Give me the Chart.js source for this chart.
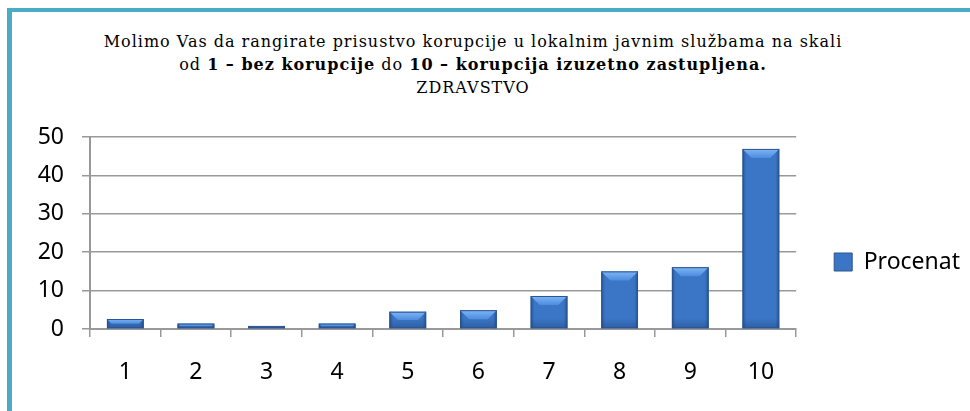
<!DOCTYPE html>
<html>
<head>
<meta charset="utf-8">
<script src="https://cdn.jsdelivr.net/npm/chart.js@4.4.1/dist/chart.umd.min.js"></script>
<style>
  html, body { margin: 0; padding: 0; background: #fff; overflow: hidden; }
  #frame { position: absolute; left: 7px; top: 8px; right: 0; bottom: 0; border-left: 5px solid #4bacc6; border-top: 4px solid #4bacc6; }
  #title { position: absolute; left: 0; top: 30px; width: 946px; text-align: center; font-family: "DejaVu Serif", serif; font-size: 16px; line-height: 23px; letter-spacing: 1px; color: #000; }
  #title b { font-weight: bold; }
  #wrap { position: absolute; left: 0; top: 0; width: 970px; height: 411px; }
</style>
</head>
<body>
<div id="frame"></div>
<div id="title">
  Molimo Vas da rangirate prisustvo korupcije u lokalnim javnim službama na skali<br>
  od <b>1 – bez korupcije</b> do <b>10 – korupcija izuzetno zastupljena.</b><br>
  ZDRAVSTVO
</div>
<div id="wrap"><canvas id="chart"></canvas></div>
<script>
// chart data
const categories = ['1', '2', '3', '4', '5', '6', '7', '8', '9', '10'];
const seriesName = 'Procenat';
const procenat = [2.6, 1.4, 0.8, 1.4, 4.5, 4.9, 8.6, 15, 16.1, 46.9];
const yTicks = [0, 10, 20, 30, 40, 50];

(function () {
  const gridColor = '#999999';
  const textFont = { family: '"Noto Sans", "Open Sans", sans-serif', size: 23 };

  // bevelled look of the office-style bars, drawn over each bar element
  const bevelPlugin = {
    id: 'bevel',
    afterDatasetsDraw(chart) {
      const ctx = chart.ctx;
      chart.getDatasetMeta(0).data.forEach(bar => {
        const w = bar.width, l = bar.x - w / 2, r = bar.x + w / 2;
        const t = bar.y, b = bar.base, h = b - t;
        if (h <= 0) return;
        const bv = Math.min(9, h / 2);
        ctx.save();
        // side shading
        const side = ctx.createLinearGradient(l, 0, r, 0);
        side.addColorStop(0, 'rgba(20,50,100,0.5)');
        side.addColorStop(0.1, 'rgba(20,50,100,0)');
        side.addColorStop(0.9, 'rgba(20,50,100,0)');
        side.addColorStop(1, 'rgba(20,50,100,0.5)');
        ctx.fillStyle = side;
        ctx.fillRect(l, t, w, h);
        // bottom shading
        const bs = Math.min(10, h);
        const bottom = ctx.createLinearGradient(0, b - bs, 0, b);
        bottom.addColorStop(0, 'rgba(20,50,100,0)');
        bottom.addColorStop(1, 'rgba(20,50,100,0.35)');
        ctx.fillStyle = bottom;
        ctx.fillRect(l, b - bs, w, bs);
        // top bevel
        const top = ctx.createLinearGradient(0, t, 0, t + bv);
        top.addColorStop(0, '#80b6f4');
        top.addColorStop(1, '#4d8ce0');
        ctx.fillStyle = top;
        ctx.beginPath();
        ctx.moveTo(l, t);
        ctx.lineTo(r, t);
        ctx.lineTo(r - bv, t + bv);
        ctx.lineTo(l + bv, t + bv);
        ctx.closePath();
        ctx.fill();
        ctx.strokeStyle = '#2a5490';
        ctx.lineWidth = 1;
        ctx.strokeRect(l + 0.5, t + 0.5, w - 1, h - 1);
        ctx.restore();
      });
    }
  };

  new Chart(document.getElementById('chart'), {
    type: 'bar',
    data: {
      labels: categories,
      datasets: [{
        label: seriesName,
        data: procenat,
        backgroundColor: '#3b76c6',
        borderWidth: 0,
        barPercentage: 0.52,
        categoryPercentage: 1
      }]
    },
    options: {
      responsive: true,
      maintainAspectRatio: false,
      animation: false,
      layout: { padding: { top: 137, bottom: 24, left: 0, right: 0 } },
      plugins: {
        title: { display: false },
        tooltip: { enabled: false },
        legend: {
          position: 'right',
          maxWidth: 174,
          labels: {
            color: '#000',
            font: textFont,
            boxWidth: 18,
            boxHeight: 18,
            padding: 38,
            generateLabels: chart => [{
              text: seriesName,
              fillStyle: '#3b76c6',
              strokeStyle: '#2a5490',
              lineWidth: 1,
              datasetIndex: 0
            }]
          }
        }
      },
      scales: {
        x: {
          afterFit: axis => { axis.height = 58; },
          grid: { display: true, drawOnChartArea: false, drawTicks: true, tickLength: 8, color: gridColor, lineWidth: 1.5 },
          border: { display: true, color: gridColor, width: 2 },
          ticks: { color: '#000', font: textFont, padding: 22, maxRotation: 0 }
        },
        y: {
          min: yTicks[0],
          max: yTicks[yTicks.length - 1],
          afterBuildTicks: axis => { axis.ticks = yTicks.map(v => ({ value: v })); },
          afterFit: axis => { axis.width = 90; },
          grid: { color: gridColor, lineWidth: 1.5, tickLength: 8 },
          border: { display: true, color: gridColor, width: 2 },
          ticks: { color: '#000', font: textFont, padding: 18 }
        }
      }
    },
    plugins: [bevelPlugin]
  });
})();
</script>
</body>
</html>
